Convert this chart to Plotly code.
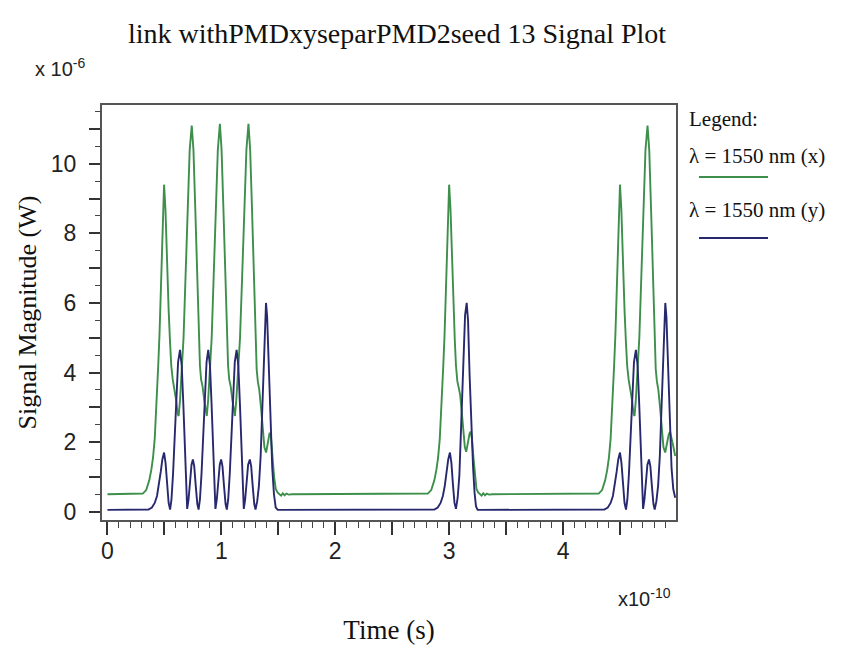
import plotly.graph_objects as go

# ---- data (time in units of 1e-10 s, power in units of 1e-6 W) ----
t_x = [0.00, 0.10, 0.20, 0.28,
       0.31, 0.34, 0.367, 0.385, 0.40, 0.415, 0.43, 0.445, 0.457, 0.472, 0.485, 0.497,
       0.509, 0.522, 0.537, 0.549, 0.56, 0.573, 0.588, 0.603, 0.617, 0.625,
       0.637, 0.652, 0.668, 0.685, 0.705, 0.722, 0.740,
       0.755, 0.772, 0.790, 0.802, 0.812, 0.822, 0.835, 0.85, 0.862, 0.872,
       0.884, 0.899, 0.915, 0.932, 0.952, 0.969, 0.987,
       1.002, 1.019, 1.037, 1.049, 1.059, 1.069, 1.082, 1.097, 1.109, 1.119,
       1.131, 1.147, 1.164, 1.182, 1.202, 1.22, 1.238,
       1.253, 1.27, 1.288, 1.30, 1.31, 1.32, 1.333, 1.348, 1.363, 1.378, 1.393, 1.408, 1.423, 1.433,
       1.448, 1.463, 1.478, 1.493, 1.51, 1.525, 1.54, 1.555, 1.57, 1.59, 1.62, 2.00, 2.50, 2.78,
       2.813, 2.843, 2.87, 2.888, 2.903, 2.918, 2.933, 2.948, 2.96, 2.975, 2.988, 3.00,
       3.012, 3.025, 3.04, 3.05, 3.06, 3.072, 3.085, 3.097, 3.11, 3.125, 3.138, 3.15, 3.165, 3.18,
       3.19, 3.20, 3.215, 3.228, 3.24, 3.255, 3.27, 3.285, 3.30, 3.315, 3.33, 3.35, 3.38, 3.80, 4.20, 4.28,
       4.313, 4.343, 4.37, 4.388, 4.403, 4.418, 4.433, 4.448, 4.46, 4.475, 4.488, 4.50,
       4.512, 4.525, 4.54, 4.552, 4.563, 4.576, 4.591, 4.606, 4.62, 4.628,
       4.639, 4.654, 4.670, 4.687, 4.707, 4.724, 4.742,
       4.757, 4.774, 4.792, 4.804, 4.814, 4.824, 4.837, 4.852, 4.867, 4.882, 4.897, 4.912, 4.927,
       4.94, 4.955, 4.97, 4.985]
p_x = [0.50, 0.50, 0.50, 0.50,
       0.52, 0.62, 0.90, 1.20, 1.55, 2.10, 2.95, 4.15, 5.10, 6.90, 8.60, 9.40,
       8.70, 7.20, 5.80, 4.90, 4.20, 3.80, 3.55, 3.20, 2.80, 2.75,
       3.20, 4.00, 5.00, 6.70, 8.80, 10.40, 11.10,
       10.40, 8.60, 6.40, 5.10, 4.20, 3.80, 3.60, 3.20, 2.85, 2.75,
       3.20, 4.00, 5.00, 6.70, 8.80, 10.40, 11.15,
       10.40, 8.60, 6.40, 5.10, 4.20, 3.80, 3.60, 3.20, 2.85, 2.75,
       3.20, 4.00, 5.00, 6.70, 8.80, 10.40, 11.15,
       10.40, 8.60, 6.40, 5.00, 4.10, 3.75, 3.50, 3.00, 2.30, 1.85, 1.70, 1.95, 2.25, 2.25,
       1.60, 1.00, 0.65, 0.55, 0.50, 0.46, 0.53, 0.47, 0.52, 0.49, 0.50, 0.50, 0.50, 0.50,
       0.52, 0.62, 0.90, 1.20, 1.55, 2.10, 2.95, 4.15, 5.10, 6.90, 8.60, 9.40,
       8.70, 7.20, 5.80, 4.90, 4.20, 3.75, 3.55, 3.35, 2.90, 2.30, 1.85, 1.72, 1.95, 2.25,
       2.30, 2.10, 1.50, 0.95, 0.65, 0.55, 0.50, 0.46, 0.53, 0.47, 0.52, 0.49, 0.50, 0.50, 0.50, 0.50,
       0.52, 0.62, 0.90, 1.20, 1.55, 2.10, 2.95, 4.15, 5.10, 6.90, 8.60, 9.40,
       8.70, 7.20, 5.80, 4.90, 4.20, 3.80, 3.55, 3.20, 2.80, 2.75,
       3.20, 4.00, 5.00, 6.70, 8.80, 10.40, 11.10,
       10.40, 8.60, 6.40, 5.00, 4.10, 3.75, 3.50, 3.00, 2.30, 1.85, 1.70, 1.95, 2.20,
       2.30, 2.10, 1.85, 1.60]

t_y = [0.00, 0.10, 0.20, 0.30, 0.36, 0.39, 0.415, 0.435, 0.452, 0.468, 0.482, 0.497, 0.51, 0.523, 0.537, 0.55,
       0.562, 0.576, 0.59, 0.605, 0.62, 0.637, 0.652, 0.666, 0.679, 0.69, 0.70,
       0.712, 0.725, 0.738, 0.75, 0.762, 0.775, 0.789, 0.80,
       0.812, 0.826, 0.84, 0.855, 0.87, 0.885, 0.90, 0.914, 0.927, 0.938, 0.948,
       0.96, 0.973, 0.986, 0.998, 1.01, 1.023, 1.037, 1.048,
       1.06, 1.074, 1.088, 1.103, 1.118, 1.134, 1.149, 1.163, 1.176, 1.187, 1.197,
       1.209, 1.222, 1.235, 1.25, 1.262, 1.275, 1.289, 1.30,
       1.315, 1.33, 1.345, 1.36, 1.372, 1.383, 1.392, 1.402, 1.417, 1.432, 1.447, 1.462, 1.477, 1.495,
       2.00, 2.50, 2.85,
       2.87, 2.90, 2.925, 2.945, 2.962, 2.978, 2.992, 3.007, 3.02, 3.033, 3.047, 3.06,
       3.075, 3.09, 3.103, 3.116, 3.128, 3.14, 3.154, 3.166, 3.18, 3.195, 3.21, 3.223, 3.236, 3.25,
       3.80, 4.30,
       4.363, 4.393, 4.418, 4.438, 4.455, 4.471, 4.485, 4.50, 4.513, 4.526, 4.54, 4.553,
       4.565, 4.579, 4.593, 4.608, 4.623, 4.64, 4.655, 4.669, 4.682, 4.693, 4.703,
       4.715, 4.728, 4.741, 4.755, 4.767, 4.78, 4.794, 4.805,
       4.82, 4.835, 4.85, 4.865, 4.877, 4.888, 4.898, 4.908, 4.923, 4.938, 4.953, 4.968, 4.985]
p_y = [0.05, 0.05, 0.05, 0.05, 0.06, 0.12, 0.25, 0.45, 0.75, 1.15, 1.50, 1.70, 1.40, 0.80, 0.25, 0.06,
       0.35, 1.10, 2.20, 3.40, 4.30, 4.65, 4.20, 3.10, 1.80, 0.75, 0.08,
       0.35, 0.90, 1.35, 1.50, 1.30, 0.75, 0.22, 0.06,
       0.35, 1.10, 2.20, 3.40, 4.30, 4.65, 4.20, 3.10, 1.80, 0.75, 0.08,
       0.35, 0.90, 1.35, 1.50, 1.30, 0.75, 0.22, 0.06,
       0.35, 1.10, 2.20, 3.40, 4.30, 4.65, 4.20, 3.10, 1.80, 0.75, 0.08,
       0.35, 0.90, 1.35, 1.50, 1.30, 0.75, 0.22, 0.06,
       0.30, 0.75, 1.60, 3.00, 4.30, 5.50, 6.00, 5.60, 4.00, 2.40, 1.25, 0.50, 0.12, 0.05,
       0.05, 0.05, 0.05,
       0.06, 0.12, 0.25, 0.45, 0.75, 1.15, 1.50, 1.70, 1.40, 0.80, 0.25, 0.08,
       0.40, 1.05, 2.20, 3.60, 4.80, 5.65, 6.00, 5.50, 3.90, 2.40, 1.30, 0.55, 0.15, 0.05,
       0.05, 0.05,
       0.06, 0.12, 0.25, 0.45, 0.75, 1.15, 1.50, 1.70, 1.40, 0.80, 0.25, 0.06,
       0.35, 1.10, 2.20, 3.40, 4.30, 4.65, 4.20, 3.10, 1.80, 0.75, 0.08,
       0.35, 0.90, 1.35, 1.50, 1.30, 0.75, 0.22, 0.06,
       0.30, 0.75, 1.60, 3.00, 4.30, 5.50, 6.00, 5.60, 4.00, 2.40, 1.25, 0.65, 0.40]

title_text = "link withPMDxyseparPMD2seed 13 Signal Plot"
x_title = "Time (s)"
y_title = "Signal Magnitude (W)"
series_names = ["λ = 1550 nm (x)", "λ = 1550 nm (y)"]
green = "#3d8f4b"
blue = "#28286f"

W, H = 841, 651
L, R, T, B = 102, 165, 105, 131
PW, PH = W - L - R, H - T - B


def px(xp):
    return (xp - L) / PW


def py(yp):
    return (H - B - yp) / PH


fig = go.Figure()
fig.add_trace(go.Scatter(x=t_x, y=p_x, mode="lines", name=series_names[0],
                         line=dict(color=green, width=1.9), showlegend=False))
fig.add_trace(go.Scatter(x=t_y, y=p_y, mode="lines", name=series_names[1],
                         line=dict(color=blue, width=1.9), showlegend=False))

sans = "Liberation Sans, Arial, sans-serif"
serif = "Liberation Serif, Times New Roman, serif"

fig.update_layout(
    width=W, height=H,
    margin=dict(l=L, r=R, t=T, b=B, pad=0),
    paper_bgcolor="white", plot_bgcolor="white",
    title=dict(text=title_text, font=dict(family=serif, size=28, color="#111"),
               x=397 / W, xanchor="center", y=1 - 33 / H, yanchor="middle",
               xref="container", yref="container"),
)
fig.update_xaxes(range=[-0.048, 4.992], showgrid=False, zeroline=False,
                 showline=True, linecolor="#555", linewidth=2, mirror=True,
                 tick0=0, dtick=0.5, ticklabelstep=2,
                 ticks="outside", ticklen=13, tickwidth=1.5, tickcolor="#333",
                 minor=dict(dtick=0.1, ticks="outside", ticklen=6, tickwidth=1.2, tickcolor="#444"),
                 tickfont=dict(family=sans, size=23, color="#222"),
                 ticklabelstandoff=-4,
                 title=dict(text=x_title, font=dict(family=serif, size=27, color="#111"), standoff=58))
fig.update_yaxes(range=[-0.24, 11.69], showgrid=False, zeroline=False,
                 showline=True, linecolor="#555", linewidth=2, mirror=True,
                 tick0=0, dtick=1, ticklabelstep=2,
                 ticks="outside", ticklen=11, tickwidth=1.5, tickcolor="#333",
                 minor=dict(dtick=0.5, ticks="outside", ticklen=5, tickwidth=1.2, tickcolor="#444"),
                 tickfont=dict(family=sans, size=23, color="#222"),
                 ticklabelstandoff=8,
                 title=dict(text=y_title, font=dict(family=serif, size=26, color="#111"), standoff=7))

ann = [
    dict(text="x 10<sup>-6</sup>", x=px(33), y=py(67), xanchor="left", yanchor="middle",
         font=dict(family=sans, size=20, color="#222")),
    dict(text="x10<sup>-10</sup>", x=px(673), y=py(597), xanchor="right", yanchor="middle",
         font=dict(family=sans, size=20, color="#222")),
    dict(text="Legend:", x=px(687), y=py(119), xanchor="left", yanchor="middle",
         font=dict(family=serif, size=21, color="#111")),
    dict(text=series_names[0], x=px(687), y=py(156), xanchor="left", yanchor="middle",
         font=dict(family=serif, size=21, color="#111")),
    dict(text=series_names[1], x=px(687), y=py(210), xanchor="left", yanchor="middle",
         font=dict(family=serif, size=21, color="#111")),
]
for a in ann:
    a.update(xref="paper", yref="paper", showarrow=False)
fig.update_layout(annotations=ann)

fig.add_shape(type="line", xref="paper", yref="paper", x0=px(699), x1=px(768),
              y0=py(177), y1=py(177), line=dict(color=green, width=2))
fig.add_shape(type="line", xref="paper", yref="paper", x0=px(699), x1=px(768),
              y0=py(238), y1=py(238), line=dict(color=blue, width=2))

fig.write_html("out.html")
